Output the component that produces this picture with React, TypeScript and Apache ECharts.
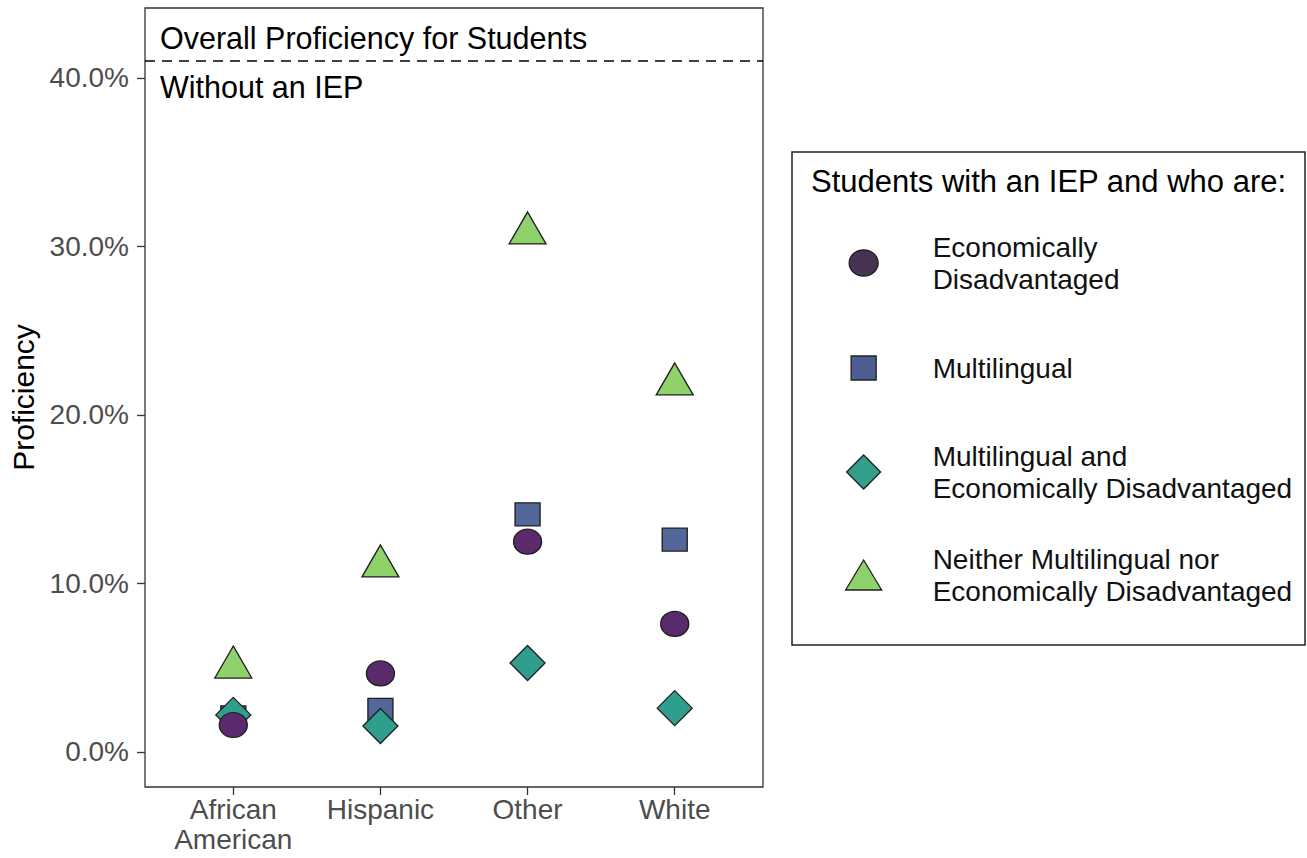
import { useEffect, useRef } from "react";
import * as echarts from "echarts";

const categories = ["African American", "Hispanic", "Other", "White"];
const econDisadv = [1.6, 4.66, 12.48, 7.6];
const multilingual = [2.05, 2.49, 14.1, 12.6];
const multiEcon = [2.2, 1.54, 5.28, 2.6];
const neither = [5.04, 11.04, 30.8, 21.84];
const yTicks = [0, 10, 20, 30, 40];
const xTicks = [0, 1, 2, 3];
const overallNoIEP = 41.0;

const seriesNames = [
  "Economically Disadvantaged",
  "Multilingual",
  "Multilingual and Economically Disadvantaged",
  "Neither Multilingual nor Economically Disadvantaged",
];
const legendLabels = [
  "Economically\nDisadvantaged",
  "Multilingual",
  "Multilingual and\nEconomically Disadvantaged",
  "Neither Multilingual nor\nEconomically Disadvantaged",
];
const legendTitle = "Students with an IEP and who are:";
const annotTop = "Overall Proficiency for Students";
const annotBottom = "Without an IEP";

const FONT = '"Liberation Sans", Arial, Helvetica, sans-serif';

const ELLIPSE = "path://M0,10A10,10 0 1,1 20,10A10,10 0 1,1 0,10Z";
const LEG_ELLIPSE = "path://M0,13A14.5,13 0 1,1 29,13A14.5,13 0 1,1 0,13Z";
const LEG_SQUARE = "path://M0,0L25,0L25,24L0,24Z";
const LEG_DIAMOND = "path://M18,0L36,18L18,36L0,18Z";
const LEG_TRIANGLE = "path://M18,0L36,30L0,30Z";

export default function App() {
  const ref = useRef<HTMLDivElement>(null);
  useEffect(() => {
    if (!ref.current) return;
    const chart = echarts.init(ref.current, undefined, { renderer: "svg" });
    const toPts = (arr: number[]) => arr.map((v, i) => [i, v]);
    const border = { borderColor: "#1f1f1f", borderWidth: 1.3, opacity: 1 };

    const legendBase = (
      name: string,
      label: string,
      icon: string,
      h: number,
      w: number,
      top: number,
      color: string
    ) => ({
      orient: "vertical",
      left: 863 - w / 2,
      top,
      padding: 0,
      itemWidth: 128,
      itemHeight: h,
      selectedMode: false,
      symbolKeepAspect: true,
      data: [{ name, icon }],
      formatter: () => label,
      itemStyle: { color, borderColor: "#1f1f1f", borderWidth: 1.3, opacity: 1 },
      textStyle: { fontFamily: FONT, fontSize: 28, lineHeight: 32, color: "#111" },
    });

    chart.setOption({
      animation: false,
      backgroundColor: "#ffffff",
      textStyle: { fontFamily: FONT },
      grid: {
        left: 145,
        top: 8,
        width: 618,
        height: 779,
        show: true,
        borderColor: "#333333",
        borderWidth: 1.3,
        backgroundColor: "transparent",
        containLabel: false,
      },
      xAxis: {
        type: "value",
        min: -0.6,
        max: 3.6,
        axisLine: { show: false, onZero: false },
        splitLine: { show: false },
        axisTick: {
          show: true,
          length: 8,
          customValues: xTicks,
          lineStyle: { color: "#333333", width: 1.3 },
        },
        axisLabel: {
          customValues: xTicks,
          margin: 7,
          fontFamily: FONT,
          fontSize: 28,
          lineHeight: 30,
          color: "#4d4d4d",
          formatter: (v: number) => (categories[Math.round(v)] || "").replace(" ", "\n"),
        },
      },
      yAxis: {
        type: "value",
        min: -2.08,
        max: 44.15,
        name: "Proficiency",
        nameLocation: "middle",
        nameRotate: 90,
        nameGap: 107,
        nameTextStyle: { fontFamily: FONT, fontSize: 30, color: "#000" },
        axisLine: { show: false, onZero: false },
        splitLine: { show: false },
        axisTick: {
          show: true,
          length: 8,
          customValues: yTicks,
          lineStyle: { color: "#333333", width: 1.3 },
        },
        axisLabel: {
          customValues: yTicks,
          margin: 16,
          fontFamily: FONT,
          fontSize: 28,
          color: "#4d4d4d",
          formatter: (v: number) => v.toFixed(1) + "%",
        },
      },
      legend: [
        legendBase(seriesNames[0], legendLabels[0], LEG_ELLIPSE, 26, 29, 231, "#463452"),
        legendBase(seriesNames[1], legendLabels[1], LEG_SQUARE, 24, 25, 352, "#4e5d92"),
        legendBase(seriesNames[2], legendLabels[2], LEG_DIAMOND, 34, 34, 440, "#32a08b"),
        legendBase(seriesNames[3], legendLabels[3], LEG_TRIANGLE, 30, 36, 543, "#8ed26b"),
      ],
      graphic: [
        {
          type: "rect",
          shape: { x: 792, y: 152, width: 513, height: 493 },
          style: { fill: "none", stroke: "#222", lineWidth: 1.5 },
          silent: true,
        },
        {
          type: "text",
          x: 811,
          y: 181,
          style: {
            text: legendTitle,
            font: `31px ${FONT}`,
            fill: "#000",
            verticalAlign: "middle",
            align: "left",
          },
          silent: true,
        },
        {
          type: "text",
          x: 160,
          y: 37.5,
          style: {
            text: annotTop,
            font: `30.5px ${FONT}`,
            fill: "#000",
            verticalAlign: "middle",
            align: "left",
          },
          silent: true,
        },
        {
          type: "text",
          x: 160,
          y: 86.5,
          style: {
            text: annotBottom,
            font: `30.5px ${FONT}`,
            fill: "#000",
            verticalAlign: "middle",
            align: "left",
          },
          silent: true,
        },
      ],
      series: [
        {
          name: seriesNames[1],
          type: "scatter",
          data: toPts(multilingual),
          symbol: "rect",
          symbolSize: [25, 23],
          itemStyle: { color: "#53679a", ...border },
          emphasis: { disabled: true },
          markLine: {
            silent: true,
            symbol: "none",
            label: { show: false },
            lineStyle: { color: "#000", type: [10, 7], width: 1.6 },
            data: [{ yAxis: overallNoIEP }],
          },
        },
        {
          name: seriesNames[2],
          type: "scatter",
          data: toPts(multiEcon),
          symbol: "diamond",
          symbolSize: [35, 35],
          itemStyle: { color: "#2f9e8c", ...border },
          emphasis: { disabled: true },
        },
        {
          name: seriesNames[0],
          type: "scatter",
          data: toPts(econDisadv),
          symbol: ELLIPSE,
          symbolSize: [28, 25],
          itemStyle: { color: "#5a2a6c", ...border },
          emphasis: { disabled: true },
        },
        {
          name: seriesNames[3],
          type: "scatter",
          data: toPts(neither),
          symbol: "triangle",
          symbolSize: [37, 32],
          symbolOffset: [0, -5],
          itemStyle: { color: "#8fd26c", ...border },
          emphasis: { disabled: true },
        },
      ],
    });
    return () => chart.dispose();
  }, []);
  return (
    <div
      ref={ref}
      style={{ position: "fixed", left: 0, top: 0, width: 1307, height: 858, background: "#fff" }}
    />
  );
}
